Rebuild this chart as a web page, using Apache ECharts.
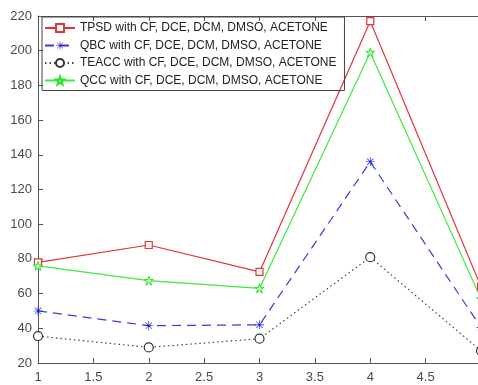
<!DOCTYPE html>
<html>
<head>
<meta charset="utf-8">
<script src="https://cdn.jsdelivr.net/npm/echarts@6/dist/echarts.min.js"></script>
<style>
  html, body { margin: 0; padding: 0; background: #fff; }
  #main { width: 478px; height: 385px; }
</style>
</head>
<body>
<div id="main"></div>
<script>
var xValues = [1, 2, 3, 4, 5];
var tpsd = [78, 88, 72.5, 217, 64];
var qbc = [50, 41.5, 42, 136, 40.5];
var teacc = [35.5, 29, 34, 81, 27];
var qcc = [76, 67.5, 63, 199, 57];
var seriesNames = [
  'TPSD with CF, DCE, DCM, DMSO, ACETONE',
  'QBC with CF, DCE, DCM, DMSO, ACETONE',
  'TEACC with CF, DCE, DCM, DMSO, ACETONE',
  'QCC with CF, DCE, DCM, DMSO, ACETONE'
];

var myChart = echarts.init(document.getElementById('main'));

function pairs(ys) {
  var res = [];
  for (var i = 0; i < ys.length; i++) {
    res.push([xValues[i], ys[i]]);
  }
  return res;
}

// asterisk and pentagram markers
var asterisk = 'path://M-0.7,-10L0.7,-10L0.7,10L-0.7,10Z M-10,-0.7L10,-0.7L10,0.7L-10,0.7Z M-7.6,-6.6L-6.6,-7.6L7.6,6.6L6.6,7.6Z M6.6,-7.6L7.6,-6.6L-6.6,7.6L-7.6,6.6Z';
var star = 'path://M0,-10L2.35,-3.24L9.51,-3.09L3.8,1.24L5.88,8.09L0,4L-5.88,8.09L-3.8,1.24L-9.51,-3.09L-2.35,-3.24Z';

var axisFont = { fontFamily: 'Liberation Sans', fontSize: 13, color: '#4a4a4a' };

var option = {
  backgroundColor: '#ffffff',
  animation: false,
  grid: { left: 38, right: -3, top: 16, bottom: 22, outerBoundsMode: 'none', containLabel: false },
  legend: {
    orient: 'vertical',
    left: 42,
    top: 17,
    borderColor: '#444',
    borderWidth: 1,
    padding: [4, 8, 3, 2],
    itemWidth: 30,
    itemHeight: 10,
    itemGap: 3.5,
    textStyle: { fontFamily: 'Liberation Sans', fontSize: 12, color: '#222', lineHeight: 14 },
    data: seriesNames
  },
  xAxis: [{
    type: 'value',
    min: 1,
    max: 5,
    interval: 0.5,
    axisLine: { onZero: false, lineStyle: { color: '#555' } },
    axisTick: { inside: true, length: 5, lineStyle: { color: '#555' } },
    axisLabel: Object.assign({ margin: 8 }, axisFont),
    splitLine: { show: false }
  }, {
    type: 'value',
    position: 'top',
    min: 1,
    max: 5,
    interval: 0.5,
    axisLine: { show: true, onZero: false, lineStyle: { color: '#555' } },
    axisTick: { inside: true, length: 5, lineStyle: { color: '#555' } },
    axisLabel: { show: false },
    splitLine: { show: false }
  }],
  yAxis: {
    type: 'value',
    min: 20,
    max: 220,
    interval: 20,
    axisLine: { show: true, lineStyle: { color: '#555' } },
    axisTick: { show: true, inside: true, length: 5, lineStyle: { color: '#555' } },
    axisLabel: Object.assign({ margin: 6 }, axisFont),
    splitLine: { show: false }
  },
  series: [
    {
      name: seriesNames[0],
      type: 'line',
      data: pairs(tpsd),
      symbol: 'rect',
      symbolSize: 7,
      lineStyle: { color: '#e2333b', width: 1.2 },
      itemStyle: { color: '#fff', borderColor: '#e2333b', borderWidth: 1.2 }
    },
    {
      name: seriesNames[1],
      type: 'line',
      data: pairs(qbc),
      symbol: asterisk,
      symbolSize: 9,
      lineStyle: { color: '#3a3ad6', width: 1.2, type: [9, 6] },
      itemStyle: { color: '#1010e0', borderWidth: 0 }
    },
    {
      name: seriesNames[2],
      type: 'line',
      data: pairs(teacc),
      symbol: 'circle',
      symbolSize: 9,
      lineStyle: { color: '#444', width: 1.2, type: [1.5, 3] },
      itemStyle: { color: '#fff', borderColor: '#333', borderWidth: 1.2 }
    },
    {
      name: seriesNames[3],
      type: 'line',
      data: pairs(qcc),
      symbol: star,
      symbolSize: 9,
      lineStyle: { color: '#3ee83e', width: 1.2 },
      itemStyle: { color: '#baf8ba', borderColor: '#2ee02e', borderWidth: 1 }
    }
  ]
};

myChart.setOption(option);
</script>
</body>
</html>
